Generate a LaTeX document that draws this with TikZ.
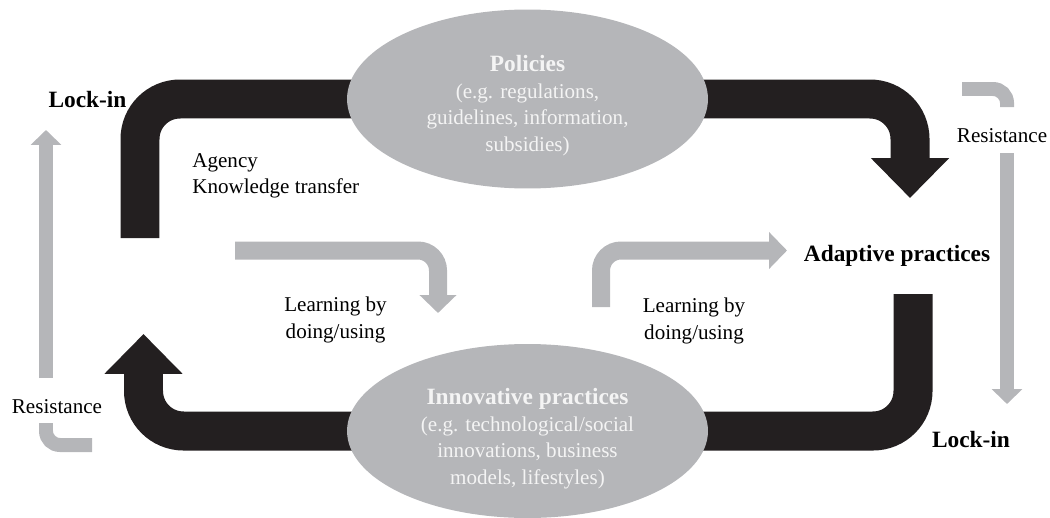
\documentclass[tikz,border=0pt]{standalone}
\usepackage{fontspec}
\setmainfont{LiberationSerif}[Extension=.ttf,UprightFont=*-Regular,BoldFont=*-Bold]
\usepackage{tikz}
\usetikzlibrary{positioning,arrows.meta,shapes.geometric,backgrounds}
\definecolor{inkblack}{RGB}{35,31,32}
\definecolor{greyc}{RGB}{181,182,185}
\definecolor{lightc}{RGB}{244,244,244}
\begin{document}
\begin{tikzpicture}[x=0.02cm,y=-0.02cm,
		lockin/.style={draw=inkblack,line width=0.78cm,rounded corners=0.8cm},
		lockhead/.style={-{Triangle[length=0.8cm,width=1.52cm]}},
		resist/.style={draw=greyc,line width=0.28cm,rounded corners=0.28cm},
		resisthead/.style={-{Triangle[length=0.3cm,width=0.6cm]}},
		learn/.style={draw=greyc,line width=0.36cm,rounded corners=0.4cm,-{Triangle[length=0.36cm,width=0.72cm]}},
		blob/.style={ellipse,fill=greyc,minimum width=7.22cm,inner sep=0pt},
		blobtext/.style={text=lightc,align=center,inner sep=0pt,font=\fontsize{12}{15.2}\selectfont},
		plain/.style={inner sep=0pt,font=\fontsize{12}{15.2}\selectfont},
		head/.style={inner sep=0pt,font=\fontsize{13.3}{15.2}\selectfont\bfseries}]
		\useasboundingbox (0,0) rectangle (1050,517);
		
		\node[blob,minimum height=3.58cm] (pol) at (527.5,99) {};
		\node[blob,minimum height=3.48cm] (inn) at (527.5,431) {};
		
		\node[blobtext,anchor=north] (poltx) at (527.5,55) {{\fontsize{13.3}{15.2}\selectfont\bfseries Policies}\\(e.g. regulations,\\guidelines, information,\\subsidies)};
		\node[blobtext,anchor=north] (inntx) at (527.5,388) {{\fontsize{13.3}{15.2}\selectfont\bfseries Innovative practices}\\(e.g. technological/social\\innovations, business\\models, lifestyles)};
		
		\node[head,anchor=base] (lk1) at (87.5,108) {Lock-in};
		\node[head,anchor=base] (lk2) at (971,447) {Lock-in};
		\node[head,anchor=base] (ad) at (897,261) {Adaptive practices};
		\node[plain,anchor=base] (rs1) at (57,413) {Resistance};
		\node[plain,anchor=base] (rs2) at (1002,142) {Resistance};
		\node[plain,anchor=north west,align=left] (ag) at (192,153) {Agency\\Knowledge transfer};
		\node[plain,anchor=north,align=center] (lb1) at (335.5,297) {Learning by\\doing/using};
		\node[plain,anchor=north,align=center] (lb2) at (694,298) {Learning by\\doing/using};
		
		\coordinate (c1) at (140,238);
		\coordinate (t1) at (910,198);
		\coordinate (c2) at (913,294);
		\coordinate (t2) at (143.5,334);
		\coordinate (r1) at (92,445);
		\coordinate (r2) at (46,423);
		\coordinate (r3) at (46,378);
		\coordinate (r4) at (46,130);
		\coordinate (r5) at (962,89);
		\coordinate (r6) at (1007,107);
		\coordinate (r7) at (1007,153);
		\coordinate (r8) at (1007,404);
		\coordinate (l1) at (235,250.5);
		\coordinate (l2) at (438,313);
		\coordinate (l3) at (601,307);
		\coordinate (l4) at (787,250.5);
		
		\begin{scope}[on background layer]
			\draw[lockin] (c1) |- (pol.center);
			\draw[lockin,lockhead] (pol.center) -| (t1);
			\draw[lockin] (inn.center) -| (c2);
			\draw[lockin,lockhead] (inn.center) -| (t2);
		\end{scope}
		
		\draw[resist] (r1) -| (r2);
		\draw[resist,resisthead] (r3) -- (r4);
		\draw[resist] (r5) -| (r6);
		\draw[resist,resisthead] (r7) -- (r8);
		
		\draw[learn] (l1) -| (l2);
		\draw[learn] (l3) |- (l4);
	\end{tikzpicture}
\end{document}
